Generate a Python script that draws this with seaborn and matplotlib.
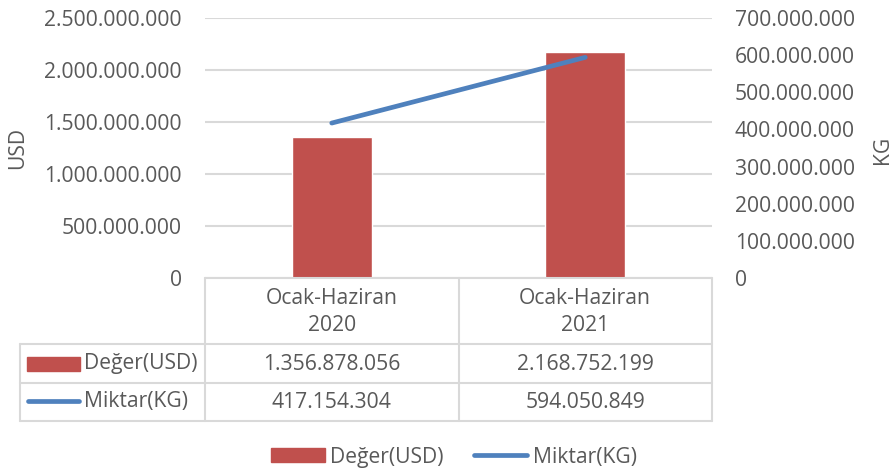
import matplotlib
matplotlib.use("Agg")
import matplotlib.pyplot as plt
import seaborn as sns
import pandas as pd
from matplotlib.patches import Rectangle, Patch
from matplotlib.lines import Line2D

categories = ["Ocak-Haziran\n2020", "Ocak-Haziran\n2021"]
usd_values = [1356878056, 2168752199]
kg_values = [417154304, 594050849]
series_names = ["Değer(USD)", "Miktar(KG)"]
usd_ticks = [0, 500000000, 1000000000, 1500000000, 2000000000, 2500000000]
kg_ticks = [0, 100000000, 200000000, 300000000, 400000000, 500000000, 600000000, 700000000]

RED = "#C0504D"
BLUE = "#4F81BD"
TXT = "#595959"
GRID = "#D9D9D9"

sns.set_theme(style="white")
plt.rcParams["font.family"] = ["Open Sans", "DejaVu Sans"]
FS = 15.2

def fmt(v):
    return f"{v:,.0f}".replace(",", ".")

W, H = 891, 471
fig = plt.figure(figsize=(W / 100, H / 100), dpi=100)

L, R, T, B = 205, 712, 18, 278
ax = fig.add_axes([L / W, 1 - B / H, (R - L) / W, (B - T) / H])
df = pd.DataFrame({"cat": categories, "usd": usd_values, "kg": kg_values})
sns.barplot(data=df, x="cat", y="usd", color=RED, width=0.315, ax=ax,
            saturation=1, zorder=2)
ax.set_xlim(-0.5, 1.5)
ax.set_ylim(usd_ticks[0], usd_ticks[-1])
ax.set_yticks(usd_ticks)
ax.set_yticklabels([fmt(v) for v in usd_ticks], color=TXT, fontsize=FS)
ax.set_xticks([])
ax.set_xlabel("")
ax.set_ylabel("")
ax.tick_params(axis="y", length=0, pad=16.5)
for s in ax.spines.values():
    s.set_visible(False)
ax.yaxis.grid(True, color=GRID, linewidth=1.5, zorder=0)
ax.set_axisbelow(True)

ax2 = ax.twinx()
sns.lineplot(x=[0, 1], y=df["kg"].values, color=BLUE, linewidth=3.4, ax=ax2,
             solid_capstyle="round", zorder=3)
ax2.set_ylim(kg_ticks[0], kg_ticks[-1])
ax2.set_yticks(kg_ticks)
ax2.set_yticklabels([fmt(v) for v in kg_ticks], color=TXT, fontsize=FS)
ax2.tick_params(axis="y", length=0, pad=16.5)
ax2.set_xlim(-0.5, 1.5)
for s in ax2.spines.values():
    s.set_visible(False)
ax2.grid(False)

fig.text(18 / W, 1 - 148 / H, "USD", rotation=90, ha="center", va="center",
         color=TXT, fontsize=FS)
fig.text(882 / W, 1 - 150 / H, "KG", rotation=90, ha="center", va="center",
         color=TXT, fontsize=FS)

# data table overlay in pixel coordinates
ov = fig.add_axes([0, 0, 1, 1], zorder=5)
ov.set_xlim(0, W)
ov.set_ylim(H, 0)
ov.axis("off")
ov.patch.set_alpha(0)

mid = (L + R) / 2
lw = 1.5
TL = 20
ov.plot([L, R], [B, B], color=GRID, lw=lw)
for y in (344, 383, 421):
    ov.plot([TL, R], [y, y], color=GRID, lw=lw)
ov.plot([TL, TL], [344, 421], color=GRID, lw=lw)
for x in (L, mid, R):
    ov.plot([x, x], [B, 421], color=GRID, lw=lw)

col_centers = [(L + mid) / 2, (mid + R) / 2]
for cx, cat in zip(col_centers, categories):
    ov.text(cx, 312, cat, ha="center", va="center", color=TXT, fontsize=FS,
            linespacing=1.38)
for cx, v in zip(col_centers, usd_values):
    ov.text(cx, 364, fmt(v), ha="center", va="center", color=TXT, fontsize=FS)
for cx, v in zip(col_centers, kg_values):
    ov.text(cx, 402, fmt(v), ha="center", va="center", color=TXT, fontsize=FS)

ov.add_patch(Rectangle((27, 357), 53, 14, color=RED))
ov.text(84, 364, series_names[0], ha="left", va="center", color=TXT, fontsize=FS)
ov.plot([28, 79], [401, 401], color=BLUE, lw=3.4, solid_capstyle="round")
ov.text(84, 402, series_names[1], ha="left", va="center", color=TXT, fontsize=FS)

handles = [Patch(facecolor=RED, edgecolor=RED, label=series_names[0]),
           Line2D([0], [0], color=BLUE, lw=3.4, solid_capstyle="round",
                  label=series_names[1])]
leg = fig.legend(handles=handles, loc="center", bbox_to_anchor=(454 / W, 1 - 457 / H),
                 ncol=2, frameon=False, fontsize=FS, handlelength=2.55,
                 handleheight=0.62, handletextpad=0.25, columnspacing=1.4,
                 borderaxespad=0, borderpad=0)
for t in leg.get_texts():
    t.set_color(TXT)

fig.savefig("out.png", dpi=100)
